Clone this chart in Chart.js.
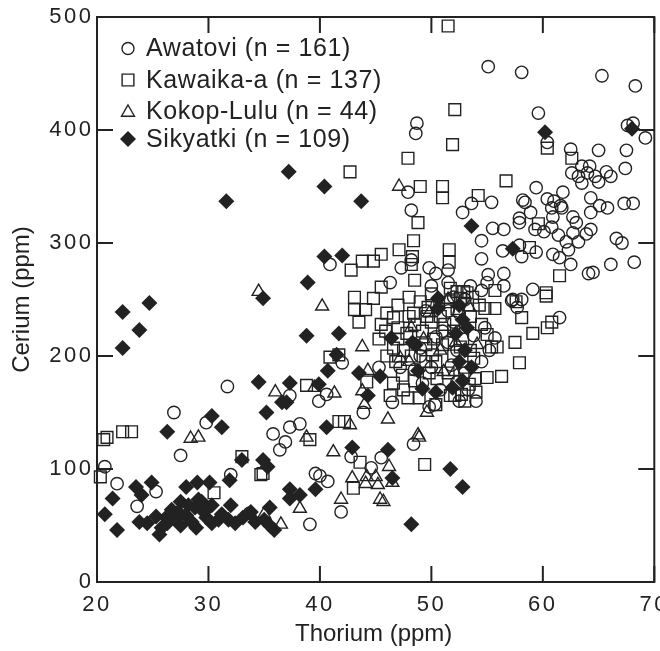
<!DOCTYPE html>
<html>
<head>
<meta charset="utf-8">
<script src="https://cdn.jsdelivr.net/npm/chart.js@4.4.1/dist/chart.umd.min.js"></script>
<style>
  html, body { margin: 0; padding: 0; background: #fff; overflow: hidden; }
  #wrap { width: 660px; height: 651px; overflow: hidden; }
</style>
</head>
<body>
<div id="wrap"><canvas id="chart" width="664" height="651"></canvas></div>
<script>
// thorium (x) and cerium (y), ppm
const awatoviTh = [48.7,48.6,55.1,58.1,65.3,68.3,59.6,60.4,62.5,65.0,67.5,67.6,68.1,69.2,47.9,48.2,52.8,40.9,48.2,47.3,
  49.8,50.4,51.5,51.5,46.3,63.5,64.2,62.6,63.2,63.5,64.0,64.7,65.0,65.7,66.1,67.4,59.4,61.8,53.6,55.4,
  58.2,58.4,60.4,61.0,61.6,60.8,61.7,60.9,64.3,65.1,65.8,67.3,68.1,64.3,58.9,55.5,56.5,57.9,57.9,59.3,
  60.1,60.8,61.4,62.7,63.0,62.7,63.9,64.3,54.5,56.4,57.9,58.1,59.4,60.9,61.5,62.1,62.3,63.2,62.5,66.6,
  67.1,54.5,66.1,68.2,64.1,64.5,55.1,56.5,55.0,54.5,56.5,59.1,57.3,58.1,31.7,26.9,29.8,35.8,20.7,21.8,
  23.6,25.3,27.5,36.9,36.4,32.0,33.7,42.8,44.6,45.5,48.4,39.6,40.0,40.7,41.9,39.1,42.0,45.3,37.3,40.6,
  39.9,43.9,46.5,49.2,49.8,50.3,37.3,38.2,49.0,50.4,51.5,52.3,52.3,57.2,57.7,61.5,55.7,49.5,50.5,51.5,
  52.5,53.0,51.0,52.0,53.8,54.5,53.0,51.8,50.0,49.0,53.3,52.5,54.0,50.8,48.5,47.2,55.2,54.8,52.0,50.0,53.5]
const awatoviCe = [406,397,456,451,448,439,415,389,383,382,382,404,406,393,345,329,327,281,285,278,
  278,273,276,265,265,368,368,362,359,353,362,359,354,363,359,366,349,345,335,336,
  338,336,339,337,333,331,331,323,340,333,331,335,335,327,327,313,312,322,318,312,
  310,314,307,323,318,309,308,312,302,293,298,288,292,290,287,301,294,301,281,304,
  300,286,281,283,273,274,272,273,265,258,262,259,250,250,173,150,141,131,102,87,
  67,80,112,124,117,95,61,111,101,110,122,96,94,89,62,51,194,190,165,166,
  160,150,159,176,155,157,137,140,207,217,212,205,177,249,243,234,216,240,245,240,
  238,250,222,230,218,195,185,192,190,200,170,160,160,170,188,190,205,225,252,262,262]

const kawaikaTh = [51.5,52.1,51.9,47.9,60.4,62.6,42.7,49.0,51.0,51.0,48.8,48.4,51.6,51.6,43.8,44.8,45.5,42.8,47.1,48.3,
  48.2,45.5,48.5,43.1,44.8,51.7,52.3,52.9,56.7,54.2,59.6,58.8,61.5,55.7,60.3,53.2,22.3,23.1,20.9,20.3,
  30.5,33.0,34.7,34.9,39.1,43.6,49.4,43.0,43.1,44.1,43.5,40.9,41.7,44.2,38.8,46.6,47.4,47.9,48.9,50.4,
  41.7,42.2,45.3,45.9,46.6,47.0,48.0,48.4,49.7,49.6,46.6,50.1,50.4,49.5,51.7,52.3,52.6,51.7,52.1,57.6,
  60.3,54.8,55.7,58.1,60.4,60.8,59.1,57.5,55.0,55.9,55.4,57.9,56.3,55.0,53.9,52.7,46.0,46.8,47.5,48.2,
  47.0,47.8,48.5,49.2,50.0,50.8,51.2,52.0,52.8,53.5,53.8,51.0,50.2,49.5,52.0,53.0,51.5,50.5,49.8,48.5,
  47.5,46.3,53.4,54.0,53.0,47.0,48.0,49.0,50.0,46.0,45.5,53.5,54.5,54.3,53.7,52.6,20.6]
const kawaikaCe = [492,418,387,375,384,375,363,350,350,340,318,302,294,283,284,284,290,276,294,288,
  281,261,267,252,251,260,257,257,355,342,317,296,271,258,256,256,133,133,128,93,
  79,111,95,96,126,106,104,83,241,241,230,199,201,177,174,176,183,163,163,157,
  142,142,215,222,234,225,235,238,243,235,207,201,195,195,248,242,251,165,165,248,
  253,242,242,234,225,230,220,212,219,208,208,194,182,181,180,166,200,195,205,200,
  215,220,228,222,230,235,228,222,215,205,198,210,215,210,200,190,185,180,185,178,
  170,165,175,168,160,245,252,248,255,238,228,235,228,245,252,208,126]

const kokopTh = [47.1,34.5,36.0,28.4,29.1,38.8,41.2,46.2,48.9,38.2,42.9,44.2,45.0,44.1,45.2,46.5,41.9,45.4,45.7,36.5,
  40.2,43.8,44.3,39.5,41.3,43.8,44.0,49.6,46.1,48.8,42.7,48.0,51.1,52.1,54.1,35.0,47.2,49.3,50.8,52.2,
  51.5,53.4,49.8,48.2]
const kokopCe = [350,257,168,127,128,128,115,102,128,65,92,93,93,87,86,88,73,73,71,51,
  244,208,187,172,167,169,157,150,144,130,139,195,186,186,210,60,198,215,205,212,
  250,243,238,225]

const sikyatkiTh = [60.2,68.0,31.6,34.9,24.7,37.2,40.4,43.7,40.4,42.0,38.9,53.6,57.3,22.3,23.8,22.3,34.5,35.2,36.6,30.3,
  31.2,26.3,23.5,24.0,24.9,21.4,20.7,21.8,28.0,29.0,30.1,31.9,33.0,34.9,35.3,25.6,35.9,35.5,32.0,42.9,
  46.1,51.7,52.8,37.3,37.3,38.2,39.6,46.5,48.2,38.8,41.7,41.5,40.7,43.5,45.4,37.3,39.9,37.0,44.3,49.2,
  40.6,46.4,48.3,48.6,48.8,50.6,50.6,23.8,24.5,25.3,26.2,26.7,27.1,27.5,28.0,28.8,28.9,29.4,29.8,30.3,
  30.9,31.8,32.4,33.1,34.2,35.0,35.5,29.6,28.5,30.3,25.8,26.3,27.5,29.1,29.6,27.3,28.2,52.5,52.8,53.2,
  52.2,53.0,52.5,53.6,52.8,51.9,50.4,33.8,31.2]
const sikyatkiCe = [398,401,337,251,247,363,350,337,288,289,265,315,295,239,223,207,177,150,159,147,
  137,133,84,77,88,74,60,46,84,88,88,90,108,108,102,42,46,66,68,119,
  117,100,84,82,74,77,82,92,51,218,220,201,187,185,182,176,175,159,165,171,
  137,216,212,210,187,251,242,53,52,58,57,64,55,50,59,66,48,71,57,68,
  55,55,52,57,53,55,50,62,53,52,48,52,71,73,65,62,68,245,232,225,
  220,205,195,190,178,172,168,62,60]

const seriesNames = ['Awatovi (n = 161)', 'Kawaika-a (n = 137)', 'Kokop-Lulu (n = 44)', 'Sikyatki (n = 109)']
const xTicks = [20, 30, 40, 50, 60, 70]
const yTicks = [0, 100, 200, 300, 400, 500]

const ink = '#222'
const clear = 'rgba(0,0,0,0)'
const fontFamily = '"Liberation Sans", Arial, Helvetica, sans-serif'

function toPoints(xs, ys) {
  return xs.map((v, i) => ({ x: v, y: ys[i] }))
}

// marker shapes used in the in-plot legend
function marker(ctx, style, x, y) {
  ctx.beginPath()
  if (style === 'circle') {
    ctx.arc(x, y, 6, 0, Math.PI * 2)
    ctx.stroke()
  } else if (style === 'rect') {
    ctx.rect(x - 5.9, y - 5.9, 11.8, 11.8)
    ctx.stroke()
  } else if (style === 'triangle') {
    ctx.moveTo(x, y - 7.5)
    ctx.lineTo(x + 6.5, y + 3.75)
    ctx.lineTo(x - 6.5, y + 3.75)
    ctx.closePath()
    ctx.stroke()
  } else {
    ctx.moveTo(x, y - 8)
    ctx.lineTo(x + 8, y)
    ctx.lineTo(x, y + 8)
    ctx.lineTo(x - 8, y)
    ctx.closePath()
    ctx.fill()
  }
}

const framePlugin = {
  id: 'frame',
  beforeDraw(chart) {
    // the tick labels of the original are widely spaced
    chart.ctx.letterSpacing = '2.5px'
  },
  beforeDatasetsDraw(chart) {
    const { ctx, chartArea: a, scales: { x, y } } = chart
    ctx.save()
    ctx.strokeStyle = ink
    ctx.lineWidth = 2
    ctx.strokeRect(a.left, a.top, a.right - a.left, a.bottom - a.top)
    ctx.beginPath()
    xTicks.forEach(v => {
      const px = x.getPixelForValue(v)
      ctx.moveTo(px, a.bottom)
      ctx.lineTo(px, a.bottom - 16)
      ctx.moveTo(px, a.top)
      ctx.lineTo(px, a.top + 16)
    })
    yTicks.forEach(v => {
      const py = y.getPixelForValue(v)
      ctx.moveTo(a.left, py)
      ctx.lineTo(a.left + 16, py)
      ctx.moveTo(a.right, py)
      ctx.lineTo(a.right - 16, py)
    })
    ctx.stroke()
    ctx.restore()
  },
  afterDraw(chart) {
    const { ctx, chartArea: a } = chart
    ctx.save()
    ctx.letterSpacing = '0px'
    ctx.fillStyle = ink
    ctx.strokeStyle = ink
    ctx.lineWidth = 1.4

    // axis titles
    ctx.font = '24px ' + fontFamily
    ctx.textAlign = 'center'
    ctx.textBaseline = 'middle'
    ctx.fillText('Thorium (ppm)', (a.left + a.right) / 2 - 2, 634)
    ctx.save()
    ctx.translate(22, (a.top + a.bottom) / 2)
    ctx.rotate(-Math.PI / 2)
    ctx.fillText('Cerium (ppm)', 0, 0)
    ctx.restore()

    // legend
    const styles = ['circle', 'rect', 'triangle', 'rectRot']
    const rowY = [48.5, 80, 111.5, 139]
    ctx.font = '25px ' + fontFamily
    ctx.letterSpacing = '0.6px'
    ctx.textAlign = 'left'
    styles.forEach((s, i) => {
      marker(ctx, s, 128, rowY[i] + (s === 'triangle' ? 1 : 0))
      ctx.fillText(seriesNames[i], 146, rowY[i] + 1)
    })
    ctx.restore()
  }
}

const makeSet = (label, xs, ys, style, radius, fill) => ({
  label: label,
  data: toPoints(xs, ys),
  pointStyle: style,
  pointRadius: radius,
  pointHoverRadius: radius,
  pointBorderColor: ink,
  pointBackgroundColor: fill,
  pointBorderWidth: style === 'rectRot' ? 0 : 1.4,
  clip: false
})

new Chart(document.getElementById('chart'), {
  type: 'scatter',
  data: {
    datasets: [
      makeSet('Awatovi', awatoviTh, awatoviCe, 'circle', 6.2, clear),
      makeSet('Kawaika-a', kawaikaTh, kawaikaCe, 'rect', 8.3, clear),
      makeSet('Kokop-Lulu', kokopTh, kokopCe, 'triangle', 7.5, clear),
      makeSet('Sikyatki', sikyatkiTh, sikyatkiCe, 'rectRot', 8, ink)
    ]
  },
  options: {
    responsive: false,
    animation: false,
    layout: { padding: { top: 17, right: 2, left: 0, bottom: 0 } },
    plugins: {
      legend: { display: false },
      tooltip: { enabled: false }
    },
    scales: {
      x: {
        type: 'linear',
        min: 20,
        max: 70,
        grid: { display: false, drawTicks: false },
        border: { display: false },
        ticks: {
          stepSize: 10,
          padding: 10,
          color: ink,
          font: { family: fontFamily, size: 22 }
        },
        afterFit(s) {
          s.height = 69
          s.paddingLeft = 0
          s.paddingRight = 0
        }
      },
      y: {
        min: 0,
        max: 500,
        grid: { display: false, drawTicks: false },
        border: { display: false },
        ticks: {
          stepSize: 100,
          padding: 3.5,
          color: ink,
          font: { family: fontFamily, size: 22 }
        },
        afterFit(s) {
          s.width = 97
          s.paddingTop = 0
          s.paddingBottom = 0
        }
      }
    }
  },
  plugins: [framePlugin]
})
</script>
</body>
</html>
